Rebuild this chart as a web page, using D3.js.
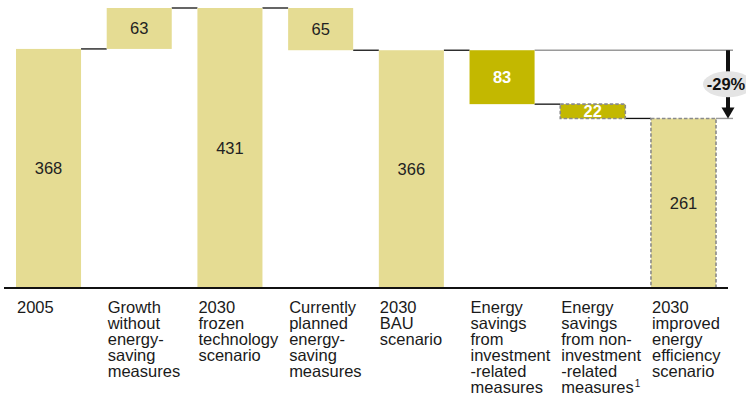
<!DOCTYPE html>
<html>
<head>
<meta charset="utf-8">
<script src="https://cdn.jsdelivr.net/npm/d3@7"></script>
<style>
  html, body { margin: 0; padding: 0; background: #fff; }
  svg { display: block; font-family: "Liberation Sans", Arial, sans-serif; }
</style>
</head>
<body>
<svg id="chart" width="746" height="400"></svg>
<script>
// Energy demand waterfall: 2005 -> 2030 scenarios
const categories = [
  ["2005"],
  ["Growth", "without", "energy-", "saving", "measures"],
  ["2030", "frozen", "technology", "scenario"],
  ["Currently", "planned", "energy-", "saving", "measures"],
  ["2030", "BAU", "scenario"],
  ["Energy", "savings", "from", "investment", "-related", "measures"],
  ["Energy", "savings", "from non-", "investment", "-related", "measures"],
  ["2030", "improved", "energy", "efficiency", "scenario"]
];
const footnotes = ["", "", "", "", "", "", "1", ""];
const values = [368, 63, 431, -65, 366, -83, -22, 261];
const kinds = ["total", "delta", "total", "delta", "total", "saving", "saving", "total"];
const dashed = [false, false, false, false, false, false, true, true];
const changeLabel = "-29%";

const svg = d3.select("#chart");
const lightFill = "#e5dc93";
const darkFill = "#c3b800";
const fontSize = 16.5;

// running start/end of each step
let level = 0;
const steps = values.map((v, i) => {
  let start, end;
  if (kinds[i] === "total") { start = 0; end = v; level = v; }
  else { start = level; end = level + v; level = end; }
  return { i, v, start, end, lo: Math.min(start, end), hi: Math.max(start, end) };
});

const x = d3.scaleBand()
  .domain(d3.range(categories.length))
  .range([16, 716])
  .paddingInner(0.283)
  .paddingOuter(0);

const y = d3.scaleLinear().domain([0, 431]).range([288, 8]);
const bw = x.bandwidth();

// connectors between consecutive steps
const conn = svg.append("g");
steps.slice(0, -1).forEach((s, i) => {
  conn.append("line")
    .attr("x1", x(i) + bw).attr("x2", x(i + 1))
    .attr("y1", y(s.end)).attr("y2", y(s.end))
    .attr("stroke", "#111").attr("stroke-width", 1.3);
});

// reference lines for the overall change annotation
const arrowX = 728;
const refTop = steps[4].end, refBottom = steps[7].end;
svg.append("line")
  .attr("x1", x(5) + bw).attr("x2", arrowX + 5)
  .attr("y1", y(refTop)).attr("y2", y(refTop))
  .attr("stroke", "#9a9a9a").attr("stroke-width", 1.4);
svg.append("line")
  .attr("x1", x(7) + bw).attr("x2", arrowX + 5)
  .attr("y1", y(refBottom)).attr("y2", y(refBottom))
  .attr("stroke", "#9a9a9a").attr("stroke-width", 1.4);

// bars
svg.append("g").selectAll("rect")
  .data(steps)
  .join("rect")
  .attr("x", d => x(d.i))
  .attr("width", bw)
  .attr("y", d => y(d.hi))
  .attr("height", d => y(d.lo) - y(d.hi))
  .attr("fill", d => kinds[d.i] === "saving" ? darkFill : lightFill)
  .attr("stroke", d => dashed[d.i] ? "#8a8a8a" : "none")
  .attr("stroke-width", 1.6)
  .attr("stroke-dasharray", "3.5,2");

// value labels
svg.append("g").selectAll("text")
  .data(steps)
  .join("text")
  .attr("x", d => x(d.i) + bw / 2)
  .attr("y", d => (y(d.lo) + y(d.hi)) / 2)
  .attr("dy", "0.36em")
  .attr("text-anchor", "middle")
  .attr("font-size", fontSize)
  .attr("font-weight", d => kinds[d.i] === "saving" ? "bold" : "normal")
  .attr("fill", d => kinds[d.i] === "saving" ? "#fff" : "#222")
  .text(d => Math.abs(d.v));

// baseline
svg.append("line")
  .attr("x1", 4).attr("x2", arrowX)
  .attr("y1", y(0)).attr("y2", y(0))
  .attr("stroke", "#111").attr("stroke-width", 2);

// category labels
const lab = svg.append("g").selectAll("text")
  .data(categories)
  .join("text")
  .attr("x", (d, i) => x(i) + 1)
  .attr("y", 313)
  .attr("font-size", fontSize)
  .attr("fill", "#1a1a1a");
lab.each(function (lines, i) {
  const t = d3.select(this);
  lines.forEach((ln, k) => {
    t.append("tspan").attr("x", x(i) + 1).attr("dy", k === 0 ? 0 : 16).text(ln);
  });
  if (footnotes[i]) {
    t.append("tspan").attr("dx", 1).attr("dy", -6).attr("font-size", 10).text(footnotes[i]);
  }
});

// overall change arrow
const ann = svg.append("g");
ann.append("line")
  .attr("x1", arrowX).attr("x2", arrowX)
  .attr("y1", y(refTop)).attr("y2", y(refBottom) - 9)
  .attr("stroke", "#111").attr("stroke-width", 4);
ann.append("path")
  .attr("d", `M${arrowX - 6.5},${y(refBottom) - 11} L${arrowX + 6.5},${y(refBottom) - 11} L${arrowX},${y(refBottom)} Z`)
  .attr("fill", "#111");
const midY = (y(refTop) + y(refBottom)) / 2;
ann.append("ellipse")
  .attr("cx", arrowX).attr("cy", midY)
  .attr("rx", 25).attr("ry", 13)
  .attr("fill", "#e4e4e4");
ann.append("text")
  .attr("x", arrowX - 2).attr("y", midY)
  .attr("dy", "0.36em")
  .attr("text-anchor", "middle")
  .attr("font-size", fontSize)
  .attr("font-weight", "bold")
  .attr("fill", "#111")
  .text(changeLabel);
</script>
</body>
</html>
